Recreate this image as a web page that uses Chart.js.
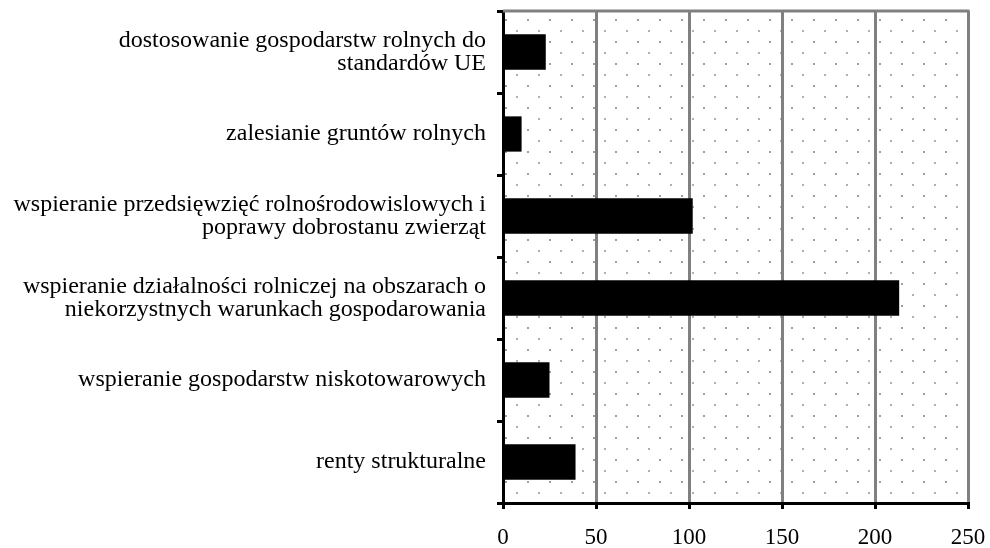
<!DOCTYPE html>
<html>
<head>
<meta charset="utf-8">
<script src="https://cdn.jsdelivr.net/npm/chart.js@4/dist/chart.umd.min.js"></script>
<style>
  html, body { margin: 0; padding: 0; background: #fff; }
  #wrap { width: 990px; height: 548px; position: relative; }
</style>
</head>
<body>
<div id="wrap"><canvas id="c" width="990" height="548"></canvas></div>
<script>
const categories = [
  ["dostosowanie gospodarstw rolnych do", "standardów UE"],
  "zalesianie gruntów rolnych",
  ["wspieranie przedsięwzięć rolnośrodowislowych i", "poprawy dobrostanu zwierząt"],
  ["wspieranie działalności rolniczej na obszarach o", "niekorzystnych warunkach gospodarowania"],
  "wspieranie gospodarstw niskotowarowych",
  "renty strukturalne"
];
const values = [23, 10, 102, 213, 25, 39];
const xTicks = [0, 50, 100, 150, 200, 250];

const dotBackground = {
  id: 'dotBackground',
  beforeDraw(chart) {
    const { ctx, chartArea: a } = chart;
    const tile = document.createElement('canvas');
    tile.width = 22; tile.height = 22;
    const t = tile.getContext('2d');
    t.fillStyle = '#a0a0a0';
    t.fillRect(2, 8, 2, 2);
    t.fillStyle = '#b0b0b0';
    t.fillRect(13, 19, 2, 2);
    const pat = ctx.createPattern(tile, 'repeat');
    ctx.save();
    ctx.translate(a.left, a.top);
    ctx.fillStyle = pat;
    ctx.fillRect(0, 0, a.right - a.left, a.bottom - a.top);
    ctx.restore();
  },
  afterDraw(chart) {
    const { ctx, chartArea: a } = chart;
    ctx.save();
    ctx.strokeStyle = '#808080';
    ctx.lineWidth = 3;
    ctx.beginPath();
    ctx.moveTo(a.left, a.top);
    ctx.lineTo(a.right + 1.5, a.top);
    ctx.stroke();
    ctx.restore();
  }
};

new Chart(document.getElementById('c'), {
  type: 'bar',
  data: {
    labels: categories,
    datasets: [{
      data: values,
      backgroundColor: '#000000',
      borderWidth: 0,
      barPercentage: 0.43,
      categoryPercentage: 1.0
    }]
  },
  options: {
    indexAxis: 'y',
    responsive: false,
    animation: false,
    devicePixelRatio: 1,
    layout: { autoPadding: false, padding: { top: 11, right: 22, left: 0, bottom: 0 } },
    plugins: { legend: { display: false }, tooltip: { enabled: false } },
    scales: {
      x: {
        min: 0, max: 250,
        afterBuildTicks(scale) { scale.ticks = xTicks.map(v => ({ value: v })); },
        afterFit(scale) { scale.height = 45; scale.paddingLeft = 0; scale.paddingRight = 0; },
        grid: { color: '#808080', lineWidth: 3, tickColor: '#000000', tickLength: 6, tickWidth: 3 },
        border: { color: '#000000', width: 3 },
        ticks: { color: '#000000', font: { family: 'Liberation Serif', size: 23 }, padding: 15 }
      },
      y: {
        afterFit(scale) { scale.width = 503; scale.paddingTop = 0; scale.paddingBottom = 0; },
        grid: { drawOnChartArea: false, color: '#000000', lineWidth: 3, tickLength: 6, offset: true },
        border: { color: '#000000', width: 3 },
        ticks: { color: '#000000', font: { family: 'Liberation Serif', size: 24, lineHeight: 0.96 }, padding: 11 }
      }
    }
  },
  plugins: [dotBackground]
});
</script>
</body>
</html>
